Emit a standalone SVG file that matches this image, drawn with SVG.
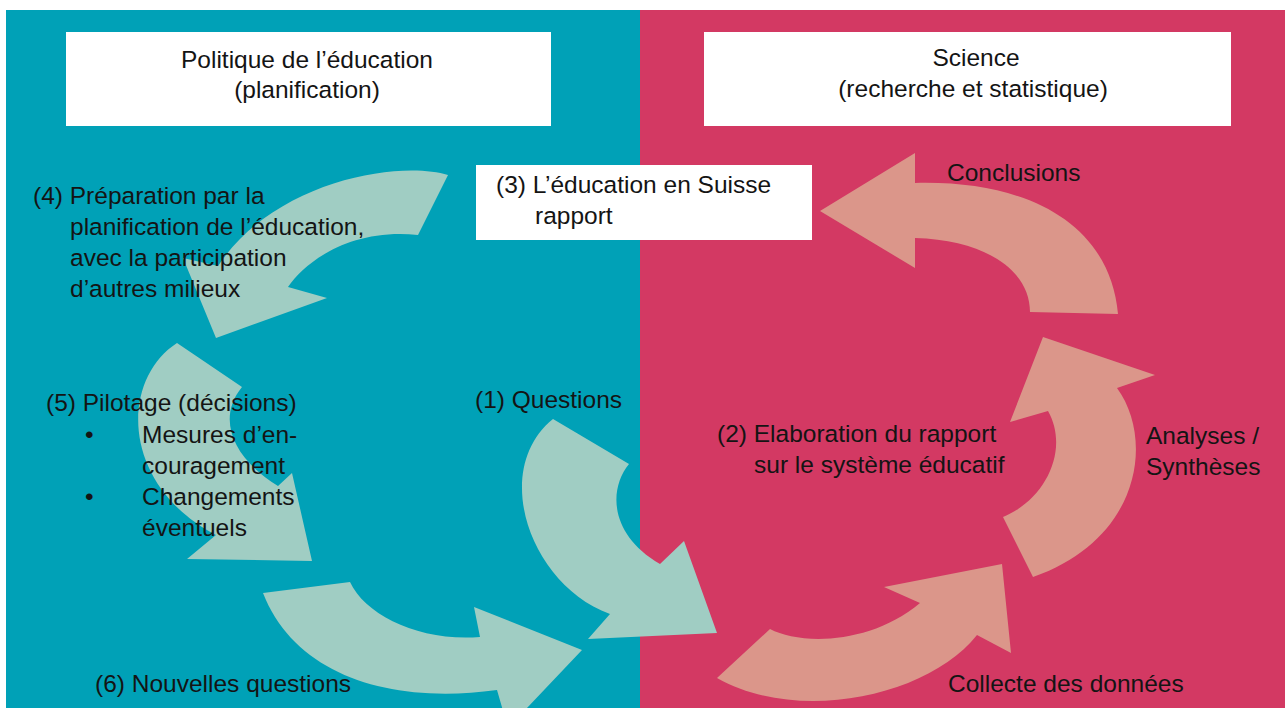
<svg xmlns="http://www.w3.org/2000/svg" width="1285" height="708" viewBox="0 0 1285 708">
  <style>
    .lbl { font-family: "Liberation Sans", Arial, sans-serif; font-size: 24.5px; fill: #141414; }
    .mid { text-anchor: middle; }
    .box { fill: #ffffff; }
    .mint { fill: #a0cdc3; }
    .salmon { fill: #db968a; }
  </style>

  <!-- background panels -->
  <rect x="0" y="0" width="1285" height="708" fill="#ffffff"/>
  <g id="panel-politique">
    <rect x="6" y="10" width="634" height="698" fill="#00a1b7"/>
  </g>
  <g id="panel-science">
    <rect x="640" y="10" width="645" height="698" fill="#d33963"/>
  </g>

  <!-- curved cycle arrows -->
  <g id="connectors">
    <!-- (4) preparation -->
    <path class="mint" d="M448,175 C400,160 275,180 218,266 L183,258 L216,338 L327,298 L288,287 C305,262 350,228 418,235 Z"/>
    <!-- (5) pilotage -->
    <path class="mint" d="M177,343 L242,387 C215,420 235,460 278,486 L292,473 L312,561 L187,559 L216,535 C120,485 120,380 177,343 Z"/>
    <!-- (6) nouvelles questions -->
    <path class="mint" d="M263,593 L350,582 C365,615 420,642 480,637 L474,607 L582,650 L508,728 L497,690 C390,705 295,675 263,593 Z"/>
    <!-- (1) questions -->
    <path class="mint" d="M553,419 L629,464 C608,490 610,535 660,564 L684,541 L717,633 L588,639 L610,614 C530,585 490,470 553,419 Z"/>
    <!-- collecte des donnees -->
    <path class="salmon" d="M717,678 L770,629 C800,645 870,645 920,603 L884,587 L1002,564 L1011,653 L977,635 C930,695 800,725 717,678 Z"/>
    <!-- analyses / syntheses -->
    <path class="salmon" d="M1033,577 L1003,517 C1045,500 1070,450 1048,411 L1010,422 L1043,337 L1155,375 L1117,388 C1155,440 1140,540 1033,577 Z"/>
    <!-- conclusions -->
    <path class="salmon" d="M1118,314 C1110,225 1030,180 915,183 L915,153 L820,211 L915,268 L915,238 C985,240 1030,270 1030,312 Z"/>
  </g>

  <!-- header boxes -->
  <g id="node-politique">
    <rect class="box" x="66" y="32" width="485" height="94"/>
    <text class="lbl mid" x="307" y="68">Politique de l’éducation</text>
    <text class="lbl mid" x="307" y="98">(planification)</text>
  </g>
  <g id="node-science">
    <rect class="box" x="704" y="32" width="527" height="94"/>
    <text class="lbl mid" x="976" y="66">Science</text>
    <text class="lbl mid" x="973" y="97">(recherche et statistique)</text>
  </g>
  <g id="node-rapport">
    <rect class="box" x="476" y="165" width="336" height="75"/>
    <text class="lbl" x="496" y="193">(3) L’éducation en Suisse</text>
    <text class="lbl" x="535" y="224">rapport</text>
  </g>

  <!-- cycle step labels -->
  <g id="node-preparation">
    <text class="lbl" x="33" y="204">(4) Préparation par la</text>
    <text class="lbl" x="70" y="235">planification de l’éducation,</text>
    <text class="lbl" x="70" y="266">avec la participation</text>
    <text class="lbl" x="70" y="297">d’autres milieux</text>
  </g>
  <g id="node-pilotage">
    <text class="lbl" x="46" y="411">(5) Pilotage (décisions)</text>
    <text class="lbl" x="85" y="443">•</text>
    <text class="lbl" x="142" y="443">Mesures d’en-</text>
    <text class="lbl" x="142" y="474">couragement</text>
    <text class="lbl" x="85" y="505">•</text>
    <text class="lbl" x="142" y="505">Changements</text>
    <text class="lbl" x="142" y="536">éventuels</text>
  </g>
  <g id="node-nouvelles">
    <text class="lbl" x="95" y="692">(6) Nouvelles questions</text>
  </g>
  <g id="node-questions">
    <text class="lbl" x="475" y="408">(1) Questions</text>
  </g>
  <g id="node-elaboration">
    <text class="lbl" x="717" y="442">(2) Elaboration du rapport</text>
    <text class="lbl" x="754" y="473">sur le système éducatif</text>
  </g>
  <g id="node-collecte">
    <text class="lbl" x="948" y="692">Collecte des données</text>
  </g>
  <g id="node-analyses">
    <text class="lbl" x="1146" y="444">Analyses /</text>
    <text class="lbl" x="1146" y="475">Synthèses</text>
  </g>
  <g id="node-conclusions">
    <text class="lbl" x="947" y="181">Conclusions</text>
  </g>
</svg>
